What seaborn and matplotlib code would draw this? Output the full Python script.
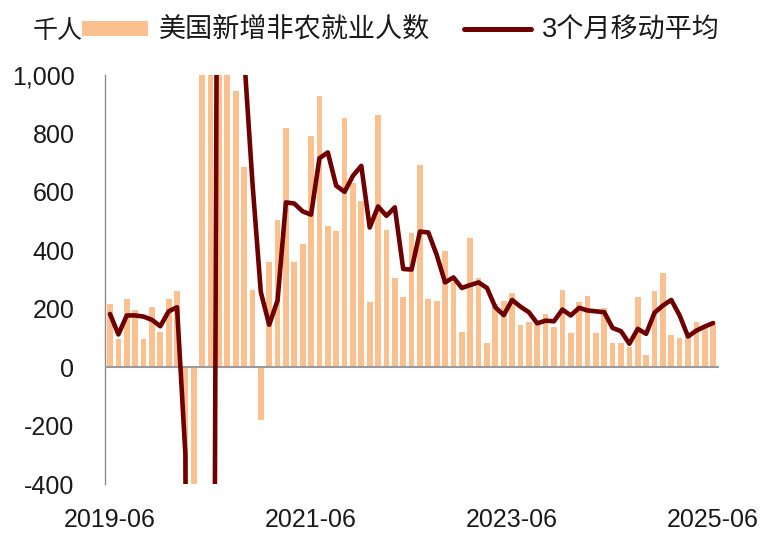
import matplotlib
matplotlib.use("Agg")
import matplotlib.pyplot as plt
from matplotlib.lines import Line2D
from matplotlib.patches import Patch
from matplotlib.ticker import FuncFormatter
import numpy as np
import pandas as pd
import seaborn as sns

# monthly data, 2019-06 .. 2025-06 (thousands of persons)
months = pd.date_range("2019-06-01", "2025-06-01", freq="MS").strftime("%Y-%m").tolist()

payrolls = [
    216, 95, 232, 195, 95, 205, 122, 232, 262, -1373,
    -20477, 2833, 4846, 1726, 1583, 945, 686, 265, -180, 360,
    503, 818, 361, 421, 792, 928, 482, 465, 852, 632,
    569, 222, 863, 470, 305, 239, 459, 691, 233, 228,
    399, 290, 122, 442, 304, 83, 216, 228, 254, 145,
    156, 146, 182, 139, 265, 117, 222, 243, 117, 202,
    83, 83, 68, 239, 40, 262, 321, 110, 100, 105,
    156, 145, 148,
]

ma3 = [
    182, 112, 177, 177, 173, 162, 140, 191, 205, -300,
    -7200, -6300, -4270, 3140, 2720, 1420, 1070, 632, 257, 145,
    228, 564, 560, 533, 522, 715, 735, 621, 600, 655,
    689, 478, 550, 518, 547, 336, 334, 464, 461, 384,
    290, 307, 271, 281, 290, 271, 205, 178, 230, 207,
    188, 150, 159, 157, 197, 177, 203, 194, 191, 188,
    134, 123, 80, 131, 114, 186, 211, 230, 177, 105,
    125, 139, 151,
]

tick_labels = ["2019-06", "2021-06", "2023-06", "2025-06"]

bar_color = "#FAC090"
line_color = "#6E0000"

df = pd.DataFrame({"month": months, "payrolls": payrolls, "ma3": ma3})
df["pos"] = np.arange(len(df))

sns.set_style("white")
plt.rcParams["font.family"] = ["Liberation Sans", "Noto Sans CJK SC"]

fig = plt.figure(figsize=(7.74, 5.37), dpi=100)
ax = fig.add_axes([105 / 774, 1 - 484 / 537, (719 - 105) / 774, (484 - 75) / 537])

sns.barplot(data=df, x="pos", y="payrolls", native_scale=True, color=bar_color,
            saturation=1, width=0.68, linewidth=0, ax=ax, zorder=2)
sns.lineplot(data=df, x="pos", y="ma3", color=line_color, linewidth=3.3,
             ax=ax, zorder=4)
ax.axhline(0, color="#9a9a9a", lw=1.5, zorder=3)

ax.set_ylim(-400, 1000)
ax.set_xlim(-0.6, len(df) - 0.3)
ax.set_yticks(range(-400, 1001, 200))
ax.yaxis.set_major_formatter(FuncFormatter(lambda v, p: f"{v:,.0f}"))
ax.set_xticks([months.index(m) for m in tick_labels])
ax.set_xticklabels(tick_labels)
ax.tick_params(axis="x", length=0, pad=17, labelsize=18, colors="#1a1a1a")
ax.tick_params(axis="y", length=0, pad=22, labelsize=18, colors="#1a1a1a")
ax.set_xlabel("")
ax.set_ylabel("")

for s in ["top", "right", "bottom"]:
    ax.spines[s].set_visible(False)
ax.spines["left"].set_color("#8c8c8c")
ax.spines["left"].set_linewidth(1.0)

# small tick marks sitting on the zero line
sec = ax.secondary_xaxis(400 / 1400)
sec.set_xticks(ax.get_xticks()[1:])
sec.tick_params(axis="x", direction="in", length=5, width=1, color="#8c8c8c",
                labelbottom=False, labeltop=False)
sec.spines["bottom"].set_visible(False)
sec.spines["top"].set_visible(False)

fig.text(33 / 774, 1 - 31 / 537, "千人", fontsize=18, va="center", color="#1a1a1a")
handles = [Patch(facecolor=bar_color, edgecolor="none"),
           Line2D([], [], color=line_color, lw=3.6)]
fig.legend(handles, ["美国新增非农就业人数", "3个月移动平均"], ncol=2,
           loc="center left", bbox_to_anchor=(82 / 774, 1 - 31 / 537),
           frameon=False, fontsize=19.5, handlelength=2.45, handleheight=0.5,
           handletextpad=0.4, columnspacing=1.25, borderpad=0, borderaxespad=0,
           labelcolor="#1a1a1a")

fig.savefig("out.png", dpi=100)
